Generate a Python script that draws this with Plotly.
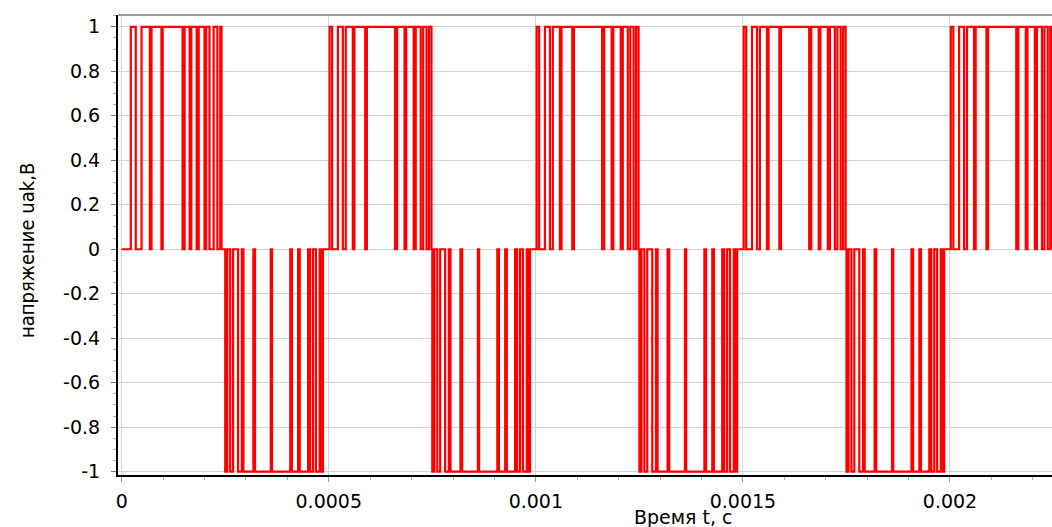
import plotly.graph_objects as go

# Switching intervals inside each half-cycle (microseconds from the half-cycle start)
half_period_us = 250.0
first_pos_high_us = [[22, 34], [48, 68], [72, 96], [99, 147], [152, 164], [168, 181],
                     [186, 200], [204, 212], [222, 231], [238, 241]]
pos_high_us = [[2, 8], [22, 34], [41, 58], [62, 88], [92, 160], [165, 183],
               [187, 205], [210, 222], [228, 236], [242, 248]]
neg_low_us = [[0, 5], [12, 19], [31, 40], [44, 68], [72, 110], [113, 157],
              [161, 176], [180, 200], [205, 212], [219, 228], [232, 236]]
n_half_cycles = 9
t_start = -0.0000089
t_end = 0.0022463

x_ticks = [0, 0.0005, 0.001, 0.0015, 0.002]
x_tick_text = ["0", "0.0005", "0.001", "0.0015", "0.002"]
y_ticks = [1, 0.8, 0.6, 0.4, 0.2, 0, -0.2, -0.4, -0.6, -0.8, -1]
y_tick_text = ["1", "0.8", "0.6", "0.4", "0.2", "0", "-0.2", "-0.4", "-0.6", "-0.8", "-1"]

ts, vs = [0.0], [0.0]
for k in range(n_half_cycles):
    base = k * half_period_us
    if k == 0:
        level, pulses = 1, first_pos_high_us
    elif k % 2 == 0:
        level, pulses = 1, pos_high_us
    else:
        level, pulses = -1, neg_low_us
    for a, b in pulses:
        ta = (base + a) * 1e-6
        tb = min((base + b) * 1e-6, t_end)
        if ta > t_end:
            break
        ts += [ta, ta, tb, tb]
        vs += [0, level, level, 0]
ts.append(t_end)
vs.append(0)

fig = go.Figure()
fig.add_trace(go.Scatter(x=ts, y=vs, mode="lines",
                         line=dict(color="#ff0000", width=2.2),
                         showlegend=False, hoverinfo="skip"))

tick_font = dict(family="DejaVu Sans, Verdana, sans-serif", size=19, color="#000")
fig.update_layout(
    width=1052, height=527,
    margin=dict(l=118, r=0, t=15, b=52, autoexpand=False),
    paper_bgcolor="white", plot_bgcolor="white",
    xaxis=dict(range=[t_start, t_end], tickvals=x_ticks, ticktext=x_tick_text,
               automargin=False,
               showgrid=True, gridcolor="#d4d4d4", gridwidth=1,
               showline=True, linecolor="#000", linewidth=2,
               ticks="outside", ticklen=5, tickcolor="#999",
               ticklabelstandoff=3,
               minor=dict(dtick=0.0001, ticks="outside", ticklen=3, tickcolor="#aaa", showgrid=False),
               tickfont=tick_font, zeroline=False),
    yaxis=dict(range=[-1.015, 1.053], tickvals=y_ticks, ticktext=y_tick_text,
               automargin=False,
               showgrid=True, gridcolor="#d4d4d4", gridwidth=1,
               showline=True, linecolor="#000", linewidth=2,
               ticks="outside", ticklen=5, tickcolor="#777",
               ticklabelstandoff=7,
               minor=dict(dtick=0.05, ticks="outside", ticklen=3, tickcolor="#aaa", showgrid=False),
               tickfont=tick_font, zeroline=False),
)
fig.add_shape(type="line", xref="paper", yref="paper", x0=0, x1=1, y0=1, y1=1,
              line=dict(color="#a0a0a0", width=2))
fig.add_annotation(text="Время t, с", xref="paper", yref="paper",
                   x=(683 - 118) / 934, y=-42 / 460, xanchor="center", yanchor="middle",
                   showarrow=False, font=tick_font)
fig.add_annotation(text="напряжение uak,В", xref="paper", yref="paper",
                   x=(27 - 118) / 934, y=(475 - 251) / 460, xanchor="center", yanchor="middle",
                   textangle=-90, showarrow=False,
                   font=dict(family="Liberation Sans Narrow, DejaVu Sans Condensed, sans-serif",
                             size=20, color="#000"))

fig.write_html("out.html", config={"displayModeBar": False},
               post_script="document.body.style.margin='0';document.body.style.overflow='hidden';")
